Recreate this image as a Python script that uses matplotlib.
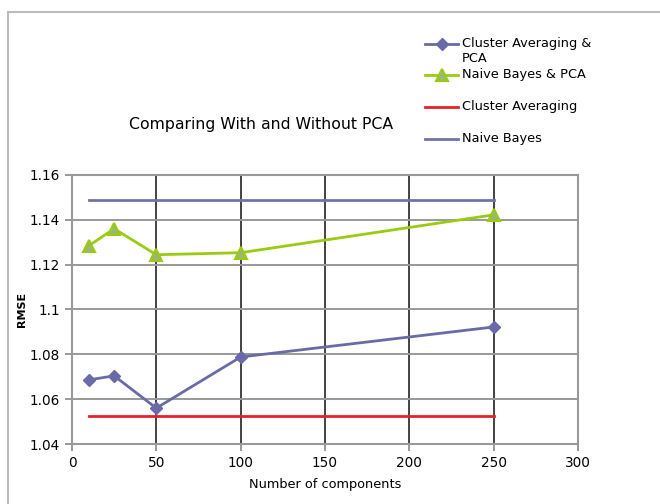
import matplotlib
matplotlib.use("Agg")
import matplotlib.pyplot as plt
from matplotlib.lines import Line2D

# RMSE against number of PCA components
components = [10, 25, 50, 100, 250]
cluster_pca = [1.0686, 1.0704, 1.0560, 1.0788, 1.0922]
bayes_pca = [1.1284, 1.1360, 1.1244, 1.1253, 1.1422]
cluster_avg = 1.0525
naive_bayes = 1.1489

x_ticks = [0, 50, 100, 150, 200, 250, 300]
y_ticks = [1.04, 1.06, 1.08, 1.1, 1.12, 1.14, 1.16]
y_tick_labels = ["1.04", "1.06", "1.08", "1.1", "1.12", "1.14", "1.16"]

plt.rcParams['font.family'] = ['DejaVu Sans']

fig = plt.figure(figsize=(6.6, 5.04), dpi=100)
ax = fig.add_axes([0.109, 0.119, 0.767, 0.534])

purple = '#6a6aa8'
green = '#99cc11'
red = '#e8202a'

styles = [
    dict(color=purple, lw=2, marker='D', ms=6, mfc=purple, mec=purple),
    dict(color=green, lw=2, marker='^', ms=9, mfc='#9ab872', mec=green, mew=1.5),
    dict(color=red, lw=2),
    dict(color='#7272aa', lw=2),
]
labels = ['Cluster Averaging &\nPCA', 'Naive Bayes & PCA',
          'Cluster Averaging', 'Naive Bayes']

ax.plot(components, cluster_pca, zorder=5, **styles[0])
ax.plot(components, bayes_pca, zorder=5, **styles[1])
ax.plot([components[0], components[-1]], [cluster_avg, cluster_avg],
        zorder=4, **styles[2])
ax.plot([components[0], components[-1]], [naive_bayes, naive_bayes],
        zorder=4, **styles[3])

ax.set_xlim(0, 300)
ax.set_ylim(1.04, 1.16)
ax.set_xticks(x_ticks)
ax.set_yticks(y_ticks)
ax.set_yticklabels(y_tick_labels)
ax.tick_params(labelsize=9.8, color='#888888', length=5, width=1.2)

# vertical grid dark, horizontal grid grey
for xv in x_ticks[1:]:
    ax.axvline(xv, color='#222222', lw=1.2, zorder=1)
for yv in y_ticks[1:-1]:
    ax.axhline(yv, color='#999999', lw=1.4, zorder=1)
for s in ax.spines.values():
    s.set_color('#999999')
    s.set_linewidth(1.5)

ax.set_xlabel('Number of components', fontsize=9.3, labelpad=6)
ax.set_ylabel('RMSE', fontsize=8, fontweight='bold', labelpad=2)

fig.text(0.395, 0.752, 'Comparing With and Without PCA', fontsize=11.3,
         ha='center', va='center')

# legend laid out by hand, handle aligned to first text line
legend_y = [0.9127, 0.8512, 0.7877, 0.7242]
for y, st, lab in zip(legend_y, styles, labels):
    st = dict(st)
    marker = st.pop('marker', None)
    line_kw = {k: v for k, v in st.items() if k in ('color', 'lw')}
    fig.add_artist(Line2D([0.644, 0.694], [y, y], transform=fig.transFigure,
                          **line_kw))
    if marker:
        fig.add_artist(Line2D([0.669], [y], marker=marker, transform=fig.transFigure,
                              linestyle='none', **st))
    fig.text(0.700, y + 0.014, lab, fontsize=9.3, ha='left', va='top',
             linespacing=1.2)

# partial frame around the figure
fig.add_artist(Line2D([0.012, 0.012], [0.0, 0.976], color='#bbbbbb', lw=1.5,
                      transform=fig.transFigure))
fig.add_artist(Line2D([0.012, 1.0], [0.976, 0.976], color='#bbbbbb', lw=1.5,
                      transform=fig.transFigure))

fig.savefig('out.png', dpi=100)
